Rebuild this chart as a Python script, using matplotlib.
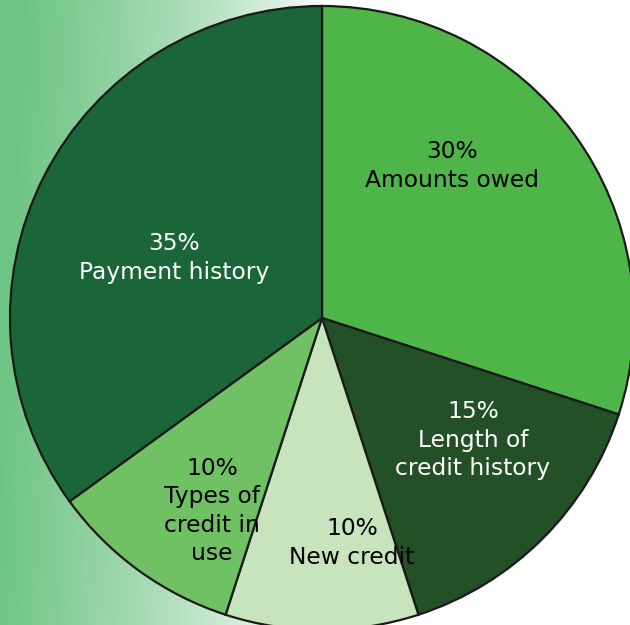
import matplotlib
matplotlib.use('Agg')
import matplotlib.pyplot as plt
import numpy as np

# slices, clockwise from the top
labels = ['30%\nAmounts owed', '15%\nLength of\ncredit history', '10%\nNew credit',
          '10%\nTypes of\ncredit in\nuse', '35%\nPayment history']
shares = [30, 15, 10, 10, 35]
colors = ['#4eb648', '#245028', '#c8e4bc', '#70c064', '#1a6638']
text_colors = ['black', 'white', 'black', 'black', 'white']

W, H = 630, 625
# label centres in picture pixels (x right, y down)
label_px = [(452, 166), (473, 440), (352, 543), (212, 511), (174, 258)]

fig = plt.figure(figsize=(6.3, 6.25), dpi=100)
ax = fig.add_axes([0, 0, 1, 1])

# soft green backdrop on the left that fades to white
xx, yy = np.meshgrid(np.arange(W), np.arange(H))
t = np.clip((320 - xx - 0.05 * yy) / 300.0, 0, 1) ** 0.7
green = np.array([110, 196, 132]) / 255.0
bg = np.ones((H, W, 3)) * (1 - t[..., None]) + green * t[..., None]
ax.imshow(bg, extent=(0, W, 0, H), origin='upper', zorder=0)

wedges, _ = ax.pie(shares, colors=colors, startangle=90, counterclock=False,
                   center=(322, H - 318), radius=312,
                   wedgeprops=dict(edgecolor='#1a1a1a', linewidth=1.6))
for w in wedges:
    w.set_zorder(2)

for lab, (px, py), c in zip(labels, label_px, text_colors):
    ax.text(px, H - py, lab, ha='center', va='center', color=c,
            fontsize=16.8, family='DejaVu Sans', linespacing=1.3, zorder=3)

ax.set_xlim(0, W)
ax.set_ylim(0, H)
ax.set_aspect('equal')
ax.axis('off')

fig.savefig('out.png', dpi=100)
